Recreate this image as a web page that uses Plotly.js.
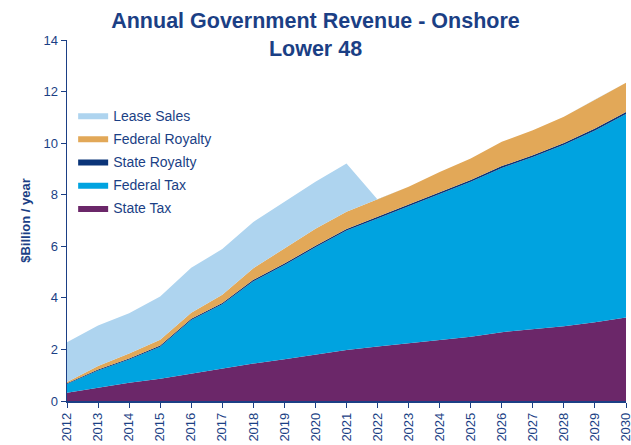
<!DOCTYPE html>
<html>
<head>
<meta charset="utf-8">
<script src="https://cdn.plot.ly/plotly-3.0.1.min.js"></script>
<style>html,body{margin:0;padding:0;background:#fff;}#chart{width:631px;height:445px;}</style>
</head>
<body>
<div id="chart"></div>
<script>
const years = [2012,2013,2014,2015,2016,2017,2018,2019,2020,2021,2022,2023,2024,2025,2026,2027,2028,2029,2030];
const stateTax = [0.32,0.52,0.71,0.86,1.06,1.25,1.45,1.62,1.80,1.98,2.11,2.24,2.36,2.49,2.67,2.78,2.90,3.05,3.24];
const federalTax = [0.34,0.66,0.90,1.24,2.08,2.50,3.19,3.65,4.16,4.63,4.97,5.31,5.67,6.01,6.37,6.68,7.04,7.44,7.89];
const stateRoyalty = [0.03,0.04,0.04,0.05,0.05,0.05,0.06,0.06,0.06,0.06,0.07,0.07,0.07,0.07,0.07,0.07,0.07,0.08,0.08];
const federalRoyalty = [0.05,0.14,0.19,0.23,0.23,0.32,0.45,0.59,0.66,0.67,0.66,0.69,0.78,0.83,0.94,0.97,1.01,1.12,1.13];
const leaseSales = [1.54,1.57,1.56,1.67,1.75,1.77,1.79,1.81,1.82,1.87,0,0,0,0,0,0,0,0,0];
const tickYears = years.map(String);

const navy = '#1B3F85';
function layer(name, vals, color, grp, rank){
  return {x: years, y: vals, name: name, type:'scatter', mode:'lines',
    stackgroup:'one', line:{width:0, color:color}, fillcolor: color, legendgroup: grp, legendrank: rank,
    hoverinfo:'x+y+name'};
}
const data = [
  layer('State Tax', stateTax, '#6B2769', 'g1', 5),
  layer('Federal Tax', federalTax, '#00A3E0', 'g2', 4),
  layer('State Royalty', stateRoyalty, '#0A3478', 'g3', 3),
  layer('Federal Royalty', federalRoyalty, '#E2A858', 'g4', 2),
  layer('Lease Sales', leaseSales, '#AED4EF', 'g5', 1)
];
const layout = {
  width:631, height:445,
  margin:{l:67, r:5, t:40, b:44},
  paper_bgcolor:'#fff', plot_bgcolor:'#fff',
  font:{family:'Liberation Sans, Arial, sans-serif', color:navy, size:13},
  title:{text:'<b>Annual Government Revenue - Onshore<br>Lower 48</b>', x:0.5, xanchor:'center', y:0.936, yanchor:'top',
    font:{size:21.5, color:navy, family:'Liberation Sans, Arial, sans-serif'}},
  xaxis:{range:[2012,2030], tickvals:years, ticktext:tickYears, tickangle:-90, ticks:'outside', ticklen:5,
    tickcolor:navy, showline:true, linecolor:navy, linewidth:1.5, showgrid:false, zeroline:false,
    ticklabeloverflow:'allow', tickfont:{size:13, color:navy}},
  yaxis:{range:[0,14], dtick:2, ticks:'outside', ticklen:5, tickcolor:navy, showline:true, linecolor:navy, linewidth:1.5,
    showgrid:false, zeroline:false, tickfont:{size:13, color:navy},
    title:{text:'<b>$Billion / year</b>', font:{size:13, color:navy}, standoff:10}},
  legend:{x:0.011, y:0.835, xanchor:'left', yanchor:'top', traceorder:'grouped', tracegroupgap:2,
    bgcolor:'rgba(0,0,0,0)', font:{size:14, color:navy}, itemwidth:30},
  showlegend:true
};
Plotly.newPlot('chart', data, layout, {displayModeBar:false, staticPlot:true});
</script>
</body>
</html>
